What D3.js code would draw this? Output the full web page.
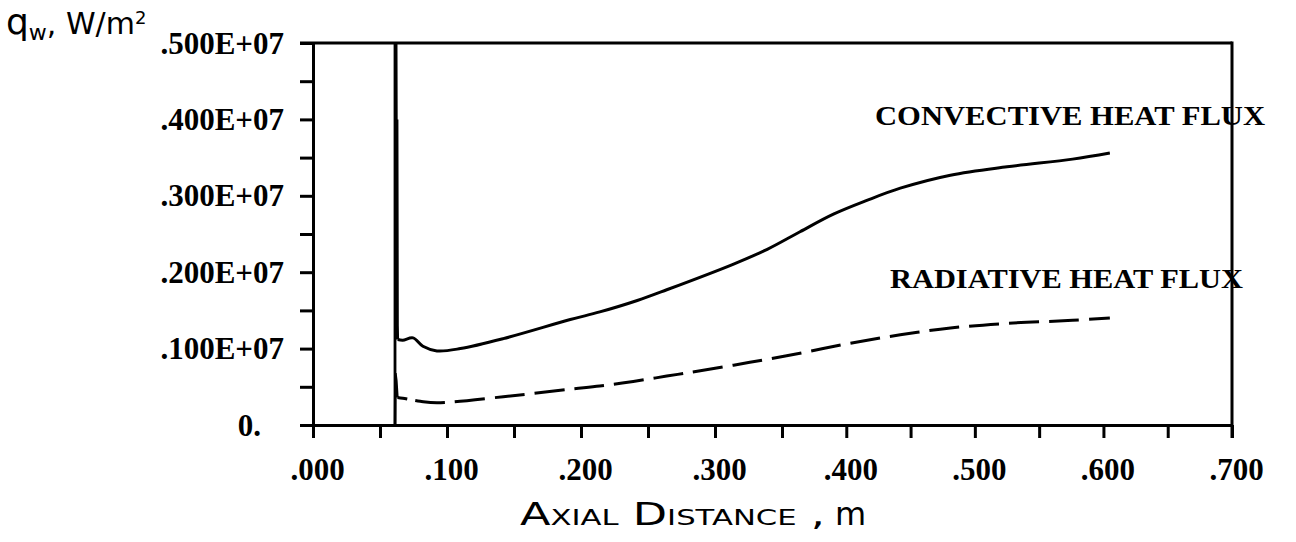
<!DOCTYPE html>
<html>
<head>
<meta charset="utf-8">
<script src="https://cdn.jsdelivr.net/npm/d3@7"></script>
<style>
  body { margin: 0; background: #fff; }
  svg { display: block; }
</style>
</head>
<body>
<div id="chart"></div>
<script>
// tick values / labels
const xTickValues = [0, 0.05, 0.1, 0.15, 0.2, 0.25, 0.3, 0.35, 0.4, 0.45, 0.5, 0.55, 0.6, 0.65, 0.7];
const xTickLabels = [".000", "", ".100", "", ".200", "", ".300", "", ".400", "", ".500", "", ".600", "", ".700"];
const yTickValues = [0, 0.5e6, 1e6, 1.5e6, 2e6, 2.5e6, 3e6, 3.5e6, 4e6, 4.5e6, 5e6];
const yTickLabels = ["0.", "", ".100E+07", "", ".200E+07", "", ".300E+07", "", ".400E+07", "", ".500E+07"];

// convective heat flux: start-up spike, then the smooth part
const convSpikeX = [0.0612, 0.0612, 0.0616, 0.0620, 0.0624, 0.0627, 0.0630, 0.0632];
const convSpikeQ = [0, 5.0e6, 2.3e6, 5.0e6, 2.3e6, 4.0e6, 1.3e6, 1.12e6];
const convX = [0.0632, 0.067, 0.0746, 0.082, 0.0925, 0.110, 0.142, 0.192, 0.214, 0.242, 0.264, 0.313, 0.339, 0.364, 0.390, 0.416, 0.442, 0.481, 0.525, 0.576, 0.605];
const convQ = [1.12e6, 1.11e6, 1.14e6, 1.03e6, 0.97e6, 1.00e6, 1.13e6, 1.38e6, 1.48e6, 1.63e6, 1.77e6, 2.10e6, 2.30e6, 2.53e6, 2.76e6, 2.94e6, 3.10e6, 3.27e6, 3.38e6, 3.48e6, 3.56e6];

// radiative heat flux
const radSpikeX = [0.0612, 0.0615, 0.0622, 0.0630];
const radSpikeQ = [0, 0.68e6, 0.58e6, 0.36e6];
const radX = [0.063, 0.067, 0.08, 0.0925, 0.142, 0.192, 0.214, 0.239, 0.264, 0.289, 0.326, 0.364, 0.403, 0.442, 0.481, 0.525, 0.576, 0.605];
const radQ = [0.36e6, 0.35e6, 0.31e6, 0.29e6, 0.37e6, 0.47e6, 0.51e6, 0.57e6, 0.64e6, 0.71e6, 0.82e6, 0.94e6, 1.07e6, 1.18e6, 1.27e6, 1.33e6, 1.37e6, 1.40e6];

const width = 1296, height = 542;
const zip = (xs, ys) => xs.map((x, i) => ({ x, q: ys[i] }));

const svg = d3.select("#chart").append("svg")
  .attr("width", width)
  .attr("height", height);

// the scanned page is stretched a little unevenly, so a 3-stop domain
const x = d3.scaleLinear().domain([0, 0.35, 0.7]).range([313, 782, 1232]);
const y = d3.scaleLinear().domain([0, 5e6]).range([425, 43]);

const serif = "'Liberation Serif', 'Times New Roman', serif";
const tickLen = 13;

// x axis
const xAxis = svg.append("g")
  .attr("transform", `translate(0,${y(0)})`)
  .call(d3.axisBottom(x).tickValues(xTickValues).tickSize(tickLen).tickSizeOuter(0)
    .tickFormat((d, i) => xTickLabels[i]));
xAxis.select(".domain").attr("stroke-width", 3);
xAxis.selectAll(".tick line").attr("stroke-width", 3);
xAxis.selectAll(".tick text")
  .attr("y", 55).attr("dy", 0).attr("dx", 4)
  .style("font-family", serif).style("font-weight", "bold").style("font-size", "31px").attr("fill", "#000");

// y axis
const yAxis = svg.append("g")
  .attr("transform", `translate(${x(0)},0)`)
  .call(d3.axisLeft(y).tickValues(yTickValues).tickSize(tickLen).tickSizeOuter(0)
    .tickFormat((d, i) => yTickLabels[i]));
yAxis.select(".domain").attr("stroke-width", 3);
yAxis.selectAll(".tick line").attr("stroke-width", 3);
yAxis.selectAll(".tick text")
  .attr("x", -29).attr("dy", 10)
  .attr("dx", (d) => (d === 0 ? -23 : 0))
  .style("font-family", serif).style("font-weight", "bold").style("font-size", "31px").attr("fill", "#000");

// top and right frame
svg.append("line")
  .attr("x1", x(0) - tickLen).attr("x2", x(0.7))
  .attr("y1", y(5e6)).attr("y2", y(5e6))
  .attr("stroke", "#000").attr("stroke-width", 3);
svg.append("line")
  .attr("x1", x(0.7)).attr("x2", x(0.7))
  .attr("y1", y(5e6) - 1.5).attr("y2", y(0) + tickLen)
  .attr("stroke", "#000").attr("stroke-width", 3);

// curves
svg.append("clipPath").attr("id", "plot")
  .append("rect").attr("x", x(0)).attr("y", y(5e6))
  .attr("width", x(0.7) - x(0)).attr("height", y(0) - y(5e6));

const plot = svg.append("g").attr("clip-path", "url(#plot)");
const lineLin = d3.line().x((d) => x(d.x)).y((d) => y(d.q));
const lineSmooth = d3.line().x((d) => x(d.x)).y((d) => y(d.q)).curve(d3.curveCatmullRom);

plot.append("path").attr("d", lineLin(zip(convSpikeX, convSpikeQ)))
  .attr("fill", "none").attr("stroke", "#000").attr("stroke-width", 2.8);
plot.append("path").attr("d", lineSmooth(zip(convX, convQ)))
  .attr("fill", "none").attr("stroke", "#000").attr("stroke-width", 3);

plot.append("path").attr("d", lineLin(zip(radSpikeX, radSpikeQ)))
  .attr("fill", "none").attr("stroke", "#000").attr("stroke-width", 2.5);
plot.append("path").attr("d", lineSmooth(zip(radX, radQ)))
  .attr("fill", "none").attr("stroke", "#000").attr("stroke-width", 3)
  .attr("stroke-dasharray", "10,8" + ",30,10".repeat(30));

// annotations
svg.append("text")
  .attr("x", 875).attr("y", 125)
  .attr("textLength", 390).attr("lengthAdjust", "spacingAndGlyphs")
  .style("font-family", serif).style("font-weight", "bold").style("font-size", "28px")
  .text("CONVECTIVE HEAT FLUX");
svg.append("text")
  .attr("x", 890).attr("y", 288)
  .attr("textLength", 353).attr("lengthAdjust", "spacingAndGlyphs")
  .style("font-family", serif).style("font-weight", "bold").style("font-size", "28px")
  .text("RADIATIVE HEAT FLUX");

// axis titles
const yTitle = svg.append("text")
  .attr("x", 6).attr("y", 34)
  .style("font-family", "'DejaVu Sans', sans-serif").style("font-size", "36px");
yTitle.append("tspan").text("q");
yTitle.append("tspan").attr("dy", 6).style("font-size", "22px").text("w");
yTitle.append("tspan").attr("dy", -6).style("font-size", "30px").text(", W/m");
yTitle.append("tspan").attr("dy", -10).style("font-size", "18px").text("2");

const xTitle = svg.append("text")
  .attr("x", 520).attr("y", 525)
  .style("font-family", "'DejaVu Sans', sans-serif").style("font-size", "32px");
xTitle.append("tspan")
  .attr("textLength", 305).attr("lengthAdjust", "spacingAndGlyphs")
  .style("font-variant", "small-caps")
  .text("Axial Distance ,");
xTitle.append("tspan").attr("dx", 10).text("m");
</script>
</body>
</html>
